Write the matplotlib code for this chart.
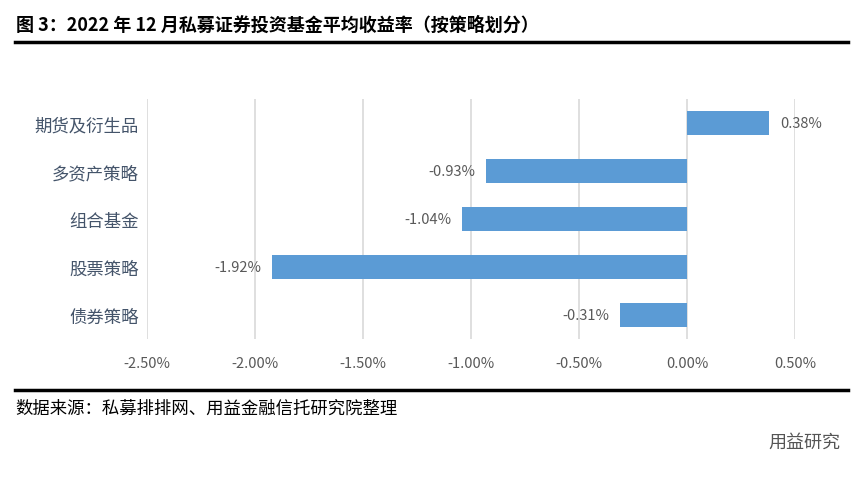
import matplotlib.pyplot as plt
import numpy as np

plt.rcParams['font.family'] = ['Noto Sans CJK SC', 'DejaVu Sans']

# categories top to bottom
categories = ["期货及衍生品", "多资产策略", "组合基金", "股票策略", "债券策略"]
returns = [0.38, -0.93, -1.04, -1.92, -0.31]
xticks = [-2.5, -2.0, -1.5, -1.0, -0.5, 0.0, 0.5]
xtick_labels = ["-2.50%", "-2.00%", "-1.50%", "-1.00%", "-0.50%", "0.00%", "0.50%"]

fig = plt.figure(figsize=(8.65, 4.81), dpi=100)

# plot area in pixels: x 147..795, y 100..340
ax = fig.add_axes([147 / 865, 1 - 340 / 481, 648 / 865, 240 / 481])

ypos = np.arange(len(categories))
bars = ax.barh(ypos, returns, height=0.5, color="#5B9BD5", zorder=3)
ax.set_ylim(len(categories) - 0.5, -0.5)
ax.set_xlim(-2.5, 0.5)
ax.set_yticks(ypos)
ax.set_yticklabels(categories, fontsize=12.5, color="#44546A")
ax.set_xticks(xticks)
ax.set_xticklabels(xtick_labels, fontsize=10.5, color="#595959")
ax.tick_params(length=0)
ax.tick_params(axis="x", pad=12)
ax.tick_params(axis="y", pad=6)
ax.grid(axis="x", color="#D9D9D9", linewidth=1.2, zorder=0)
for s in ax.spines.values():
    s.set_visible(False)

# value labels
for b, v in zip(bars, returns):
    y = b.get_y() + b.get_height() / 2
    if v >= 0:
        ax.annotate(f"{v:.2f}%", (v, y), xytext=(8, 0), textcoords="offset points",
                    ha="left", va="center", fontsize=10.5, color="#595959")
    else:
        ax.annotate(f"{v:.2f}%", (v, y), xytext=(-8, 0), textcoords="offset points",
                    ha="right", va="center", fontsize=10.5, color="#595959")

# title and rules
fig.text(16 / 865, 1 - 25 / 481, "图 3：2022 年 12 月私募证券投资基金平均收益率（按策略划分）",
         fontsize=13, fontweight="bold", va="center", ha="left", color="black")
fig.add_artist(plt.Line2D([15 / 865, 848 / 865], [1 - 43 / 481] * 2, color="black", linewidth=2.5))
fig.add_artist(plt.Line2D([15 / 865, 848 / 865], [1 - 391 / 481] * 2, color="black", linewidth=2.5))
fig.text(15 / 865, 1 - 409 / 481, "数据来源：私募排排网、用益金融信托研究院整理",
         fontsize=12.5, va="center", ha="left", color="black")
fig.text(840 / 865, 1 - 443 / 481, "用益研究", fontsize=13, va="center", ha="right",
         color="#555555")

fig.savefig("out.png", dpi=100)
